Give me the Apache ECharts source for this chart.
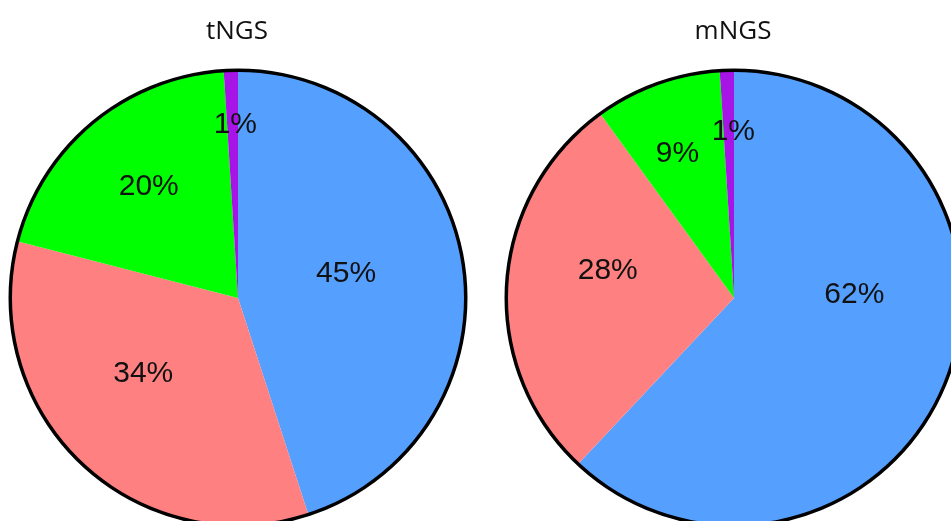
<!DOCTYPE html>
<html>
<head>
<meta charset="utf-8">
<script src="https://cdn.jsdelivr.net/npm/echarts@6/dist/echarts.min.js"></script>
<style>
    html, body { margin: 0; padding: 0; background: #fff; }
    #chart { width: 951px; height: 521px; }
</style>
</head>
<body>
<div id="chart"></div>
<script>
    // 数据
    const categories = ['blue', 'red', 'green', 'purple'];
    const tngsValues = [45, 34, 20, 1];
    const mngsValues = [62, 28, 9, 1];
    const titles = ['tNGS', 'mNGS'];

    const colors = ['#559FFF', '#FF8080', '#00FF00', '#A714E6'];
    // label nudges (px) so text sits where the original had it
    const labelShift = [
        [[-7, -6], [-15, -9], [-15, -22], [1, -57]],
        [[12, -46], [-10, -20], [-17, -35], [3, -50]]
    ];

    const centers = [[238, 298], [734, 298]];
    const R = 227;

    function pieSeries(values, idx) {
        return {
            type: 'pie',
            center: centers[idx],
            radius: [0, R],
            startAngle: 90,
            clockwise: true,
            silent: true,
            animation: false,
            label: {
                show: true,
                position: 'inner',
                formatter: '{d}%',
                color: '#111',
                fontSize: 30,
                fontFamily: 'Liberation Sans, Arial, sans-serif'
            },
            labelLine: { show: false },
            labelLayout: function (p) {
                let s = labelShift[idx][p.dataIndex];
                return { dx: s[0], dy: s[1] };
            },
            itemStyle: { borderWidth: 0 },
            data: values.map((v, i) => ({
                name: categories[i],
                value: v,
                itemStyle: { color: colors[i] }
            }))
        };
    }

    // 黑色外圈
    function ringSeries(idx) {
        return {
            type: 'pie',
            center: centers[idx],
            radius: [R - 1, R + 2.5],
            silent: true,
            animation: false,
            label: { show: false },
            labelLine: { show: false },
            itemStyle: { color: '#000', borderWidth: 0 },
            data: [{ name: 'ring', value: 1 }]
        };
    }

    let option = {
        backgroundColor: '#fff',
        title: titles.map((t, i) => ({
            text: t,
            left: centers[i][0] - 6,
            top: 14,
            textAlign: 'center',
            textStyle: {
                color: '#111',
                fontSize: 26,
                fontWeight: 'normal',
                fontFamily: 'Open Sans, Noto Sans, sans-serif'
            }
        })),
        series: [
            pieSeries(tngsValues, 0),
            pieSeries(mngsValues, 1),
            ringSeries(0),
            ringSeries(1)
        ]
    };

    let myChart = echarts.init(document.getElementById('chart'));
    myChart.setOption(option);
</script>
</body>
</html>
